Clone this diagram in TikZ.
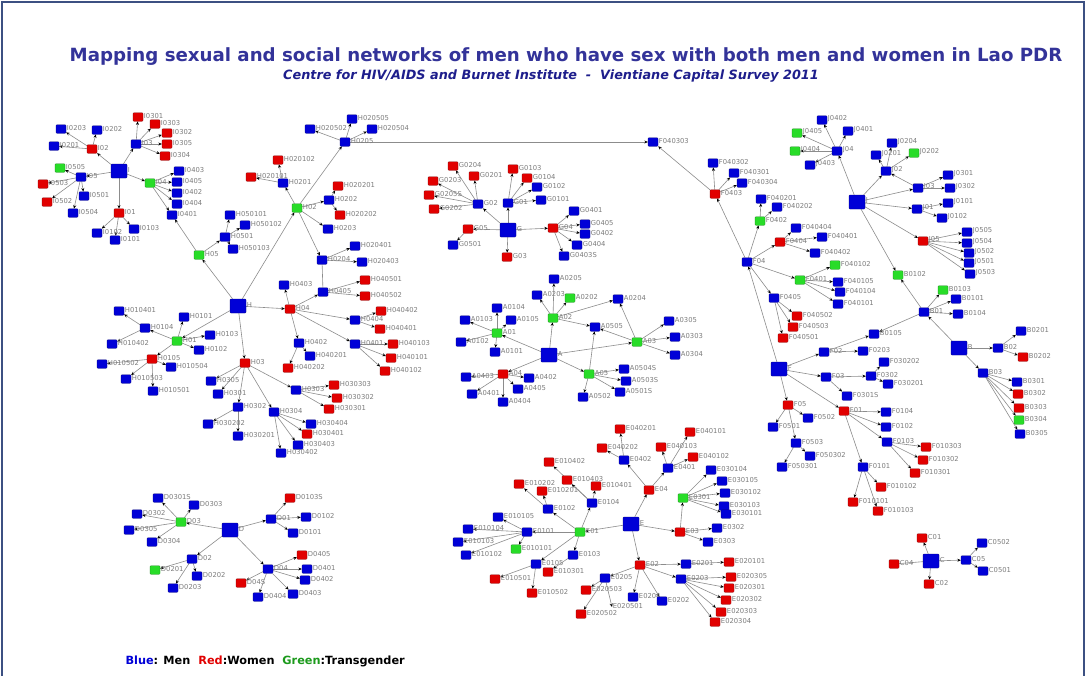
\documentclass[tikz,border=0pt]{standalone}
\usepackage{fontspec}
\setmainfont{DejaVu Sans}
\newfontfamily\lblfont{DejaVu Sans}
\usetikzlibrary{arrows.meta,backgrounds}

\definecolor{menblue}{RGB}{0,0,215}
\definecolor{womenred}{RGB}{225,0,0}
\definecolor{transgreen}{RGB}{40,220,40}
\definecolor{titleblue}{RGB}{51,51,153}
\definecolor{subblue}{RGB}{30,30,140}
\definecolor{edgegray}{RGB}{140,140,140}
\definecolor{lblgray}{RGB}{125,125,125}
\definecolor{framecol}{RGB}{60,80,130}

\tikzset{
  men/.style={rectangle, rounded corners=0.8pt, fill=menblue, draw=menblue!60!black,
    line width=0.3pt, minimum width=10pt, minimum height=8.5pt, inner sep=0pt},
  women/.style={men, fill=womenred, draw=womenred!60!black},
  trans/.style={men, fill=transgreen, draw=transgreen!60!black},
  hub/.style={minimum width=16pt, minimum height=14pt},
  lbl/.style={font=\lblfont\fontsize{6.8}{7}\selectfont, text=lblgray, inner sep=0.6pt, yshift=1pt},
  tie/.style={draw=edgegray, line width=0.6pt, -{Stealth[length=3.5pt,width=3pt,black]}},
  bond/.style={draw=edgegray, line width=0.6pt}
}

\begin{document}
\begin{tikzpicture}[x=1pt,y=-1pt]
  \useasboundingbox (0,0) rectangle (1086,675);
  % frame
  \draw[framecol, line width=1.2pt] (2,690) -- (2,2) -- (1084,2) -- (1084,690);

  % title
  \node (title) at (566,57) {\fontsize{18.2}{20}\selectfont\bfseries\color{titleblue}
    Mapping sexual and social networks of men who have sex with both men and women in Lao PDR};
  \node (subtitle) at (551,76) {\fontsize{12.8}{14}\selectfont\bfseries\itshape\color{subblue}
    Centre for HIV/AIDS and Burnet Institute~~-~~Vientiane Capital Survey 2011};

  % hubs
  \foreach \n/\x/\y in {I/119/171, H/238/306, G/508/230, A/549/355, J/857/202,
      F/779/369, B/959/348, D/230/530, E/631/524, C/931/561}
    \node[men, hub, label={[lbl]right:\n}] (\n) at (\x,\y) {};

  % men
  \foreach \n/\x/\y in {I0203/61/129, I0202/97/130, I0201/54/146, I03/136/144,
      I0403/179/171, I0405/177/182, I0402/177/193, I0404/177/204, I0401/172/215,
      I05/81/177, I0501/84/196, I0504/73/213, I0102/97/233, I0103/134/229, I0101/115/240,
      H0501/225/237, H050101/230/215, H050102/245/225, H050103/233/249, H0201/283/183,
      H0205/345/142, H020502/310/129, H020505/352/119, H020504/372/129, H0202/329/200,
      H0203/328/229, H0204/322/260, H020401/355/246, H020403/362/262,
      H0403/284/285, H0405/323/292, H0404/355/320, H0401/355/344, H0402/299/343,
      H040201/310/356, H0303/296/390, H030404/311/424, H030403/298/445, H030402/281/453,
      H0104/145/328, H010401/119/311, H010402/112/344, H0101/184/317, H0103/210/335,
      H0102/199/350, H010502/102/364, H010504/171/367, H010503/126/379, H010501/153/391,
      H0305/211/381, H0301/218/394, H0302/238/407, H030202/208/424, H030201/238/436,
      H0304/274/412,
      G02/478/204, G01/508/203, G0102/537/187, G0101/541/200, G0501/453/245,
      G0401/574/211, G0405/585/224, G0402/585/234, G0404/577/245, G0403S/564/256,
      A0205/554/279, A0203/537/295, A0204/618/299, A0505/595/327, A0305/669/321,
      A0303/675/337, A0304/675/355, A0504S/624/369, A0503S/626/381, A0501S/620/392,
      A0502/583/397, A0104/497/308, A0103/465/320, A0105/511/320, A0102/461/342,
      A0101/495/352, A0403/466/377, A0402/529/378, A0405/518/389, A0401/472/394,
      A0404/503/402,
      F040303/653/142, F040302/713/163, F040301/734/173, F040304/742/183, F04/747/262,
      F040201/761/199, F040202/777/207, F040404/796/228, F040401/822/237, F040402/815/253,
      F040105/838/282, F040104/840/292, F040101/838/304, F0405/774/298,
      J04/837/151, J0402/822/120, J0401/848/131, J0403/810/165, J02/886/171,
      J0204/892/143, J0201/876/155, J03/918/188, J0301/948/175, J0302/950/188,
      J01/917/209, J0101/948/203, J0102/942/218, J0505/967/232, J0504/967/243,
      J0502/969/253, J0501/969/263, J0503/970/274,
      B0101/956/299, B01/924/312, B0104/958/314, B0105/874/334, B02/998/348,
      B0201/1021/331, B03/983/373, B0301/1017/382, B0305/1020/434,
      F02/824/352, F0203/863/351, F03/826/377, F0302/871/376, F030202/884/362,
      F030201/888/384, F0301S/847/396, F0104/886/412, F0102/886/427, F0103/887/442,
      F0501/773/427, F0502/808/418, F0503/796/443, F050301/782/467, F050302/810/456,
      F0101/863/467,
      C05/966/560, C0502/982/543, C0501/983/571,
      D0301S/158/498, D0303/194/505, D0302/137/514, D0305/129/530, D0304/152/542,
      D02/192/559, D0202/197/576, D0203/173/588, D01/271/519, D04/268/569,
      D0404/258/597, D0102/306/517, D0101/293/533, D0401/307/569, D0402/305/580,
      D0403/293/594,
      E0102/548/509, E010105/498/517, E0101/527/532, E010104/468/529, E010103/458/542,
      E010102/466/555, E0105/536/564, E0104/592/503, E0103/573/555, E0402/624/460,
      E0401/668/468, E030104/711/470, E030105/722/481, E030102/725/493, E030103/724/506,
      E030101/726/514, E0302/717/528, E0303/708/542, E0201/686/564, E0203/681/579,
      E0204/633/597, E0202/662/601, E0205/605/578}
    \node[men, label={[lbl]right:\n}] (\n) at (\x,\y) {};

  % women
  \foreach \n/\x/\y in {I02/92/149, I0301/138/117, I0303/155/124, I0302/167/133,
      I0305/167/144, I0304/165/156, I0503/43/184, I0502/47/202, I01/119/213,
      H020101/251/177, H020102/278/160, H020201/338/186, H020202/340/215,
      H040501/365/280, H040502/365/296, H04/290/309, H040402/381/311, H040401/380/329,
      H040103/393/344, H040101/391/358, H040102/385/371, H040202/288/368,
      H030303/334/385, H030302/337/398, H030301/329/409, H030401/307/434,
      H0105/152/359, H03/245/363,
      G0204/453/166, G0201/474/176, G0203/433/181, G0205S/429/195, G0202/434/209,
      G0103/513/169, G0104/527/178, G05/468/229, G03/507/257, G04/553/228,
      F0403/715/194, F0404/780/242, F040502/797/316, F040503/793/327, F040501/783/338,
      F05/788/405, F01/844/411, F010303/926/447, F010302/923/460, F010301/915/473,
      F010101/853/502, F010102/881/487, F010103/878/511,
      J05/923/241, B0202/1023/357, B0302/1018/394, B0303/1019/408, A04/503/374,
      C01/922/538, C04/894/564, C02/929/584,
      D0103S/290/498, D0405/302/555, D04S/241/583,
      E010202/519/484, E010201/542/491, E010402/549/462, E010403/567/480,
      E010401/596/486, E010501/495/579, E010502/532/593, E010301/548/572,
      E04/649/490, E040202/602/448, E040201/620/429, E040103/661/447, E040101/690/432,
      E040102/693/457, E03/680/532, E02/640/565, E020101/729/562, E020305/731/577,
      E020301/729/588, E020302/726/600, E020303/721/612, E020304/715/622,
      E020503/586/590, E020502/581/614}
    \node[women, label={[lbl]right:\n}] (\n) at (\x,\y) {};

  % transgender
  \foreach \n/\x/\y in {I04/150/183, I0505/60/168, H05/199/255, H02/297/208,
      H01/177/341, F0402/760/221, F040102/835/265, F0401/800/280, J0405/797/133,
      J0404/795/151, J0202/914/153, B0102/898/275, B0103/943/290, B0304/1019/420,
      A02/553/318, A0202/570/298, A03/637/342, A05/589/374, A01/497/333,
      D03/181/522, D0201/155/570, E01/580/532, E0301/683/498, E010101/516/549}
    \node[trans, label={[lbl]right:\n}] (\n) at (\x,\y) {};

  \coordinate[label={[lbl]right:E020501}] (E020501) at (612,607);

  % connectors
  \begin{scope}[on background layer]
    \fill[white] (0,0) rectangle (1086,675);
    \foreach \p/\cs in {I/{I01,I02,I03,I04,I05}, I01/{I0101,I0102,I0103},
        I02/{I0201,I0202,I0203}, I03/{I0301,I0302,I0303,I0304,I0305},
        I04/{I0401,I0402,I0403,I0404,I0405}, I05/{I0501,I0502,I0503,I0504,I0505},
        H/{H01,H02,H03,H04,H05}, H01/{H0101,H0102,H0103,H0104,H0105},
        H0104/{H010401,H010402}, H0105/{H010501,H010502,H010503,H010504},
        H02/{H0201,H0202,H0203,H0204,H0205}, H0201/{H020101,H020102},
        H0202/{H020201,H020202}, H0204/{H020401,H020403},
        H0205/{H020502,H020504,H020505,F040303},
        H03/{H0301,H0302,H0303,H0304,H0305}, H0302/{H030201,H030202},
        H0303/{H030301,H030302,H030303}, H0304/{H030401,H030402,H030403,H030404},
        H04/{H0401,H0402,H0403,H0404,H0405}, H0401/{H040101,H040102,H040103},
        H0402/{H040201,H040202}, H0404/{H040401,H040402}, H0405/{H040501,H040502},
        H05/{H0501,I0401}, H0501/{H050101,H050102,H050103},
        G/{G01,G02,G03,G04,G05}, G01/{G0101,G0102,G0103,G0104},
        G02/{G0201,G0202,G0203,G0204,G0205S}, G04/{G0401,G0402,G0403S,G0404,G0405},
        G05/{G0501},
        A/{A01,A02,A03,A04,A05}, A01/{A0101,A0102,A0103,A0104,A0105},
        A02/{A0202,A0203,A0204,A0205,A0505}, A03/{A0303,A0304,A0305,A0505,A0204},
        A04/{A0401,A0402,A0403,A0404,A0405}, A05/{A0501S,A0502,A0503S,A0504S,A0505},
        F/{F01,F02,F03,F04,F05}, F04/{F0401,F0402,F0403,F0404,F0405},
        F0401/{F040101,F040102,F040104,F040105}, F0402/{F040201,F040202},
        F0403/{F040301,F040302,F040303,F040304}, F0404/{F040401,F040402,F040404},
        F0405/{F040501,F040502,F040503}, F01/{F0101,F0102,F0103,F0104},
        F0101/{F010101,F010102,F010103}, F0103/{F010301,F010302,F010303},
        F02/{F0203,B0105}, F03/{F0301S,F0302}, F0302/{F030201,F030202},
        F05/{F0501,F0502,F0503}, F0503/{F050301,F050302},
        B/{B01,B02,B03}, B01/{B0101,B0102,B0103,B0104,B0105}, B02/{B0201,B0202},
        B03/{B0301,B0302,B0303,B0304,B0305},
        J/{J01,J02,J03,J04,J05,B0102}, J01/{J0101,J0102}, J02/{J0201,J0202,J0204},
        J03/{J02,J0301,J0302}, J04/{J0401,J0402,J0403,J0404,J0405},
        J05/{J0501,J0502,J0503,J0504,J0505},
        C/{C01,C02,C05}, C05/{C0501,C0502},
        D/{D01,D02,D03,D04}, D01/{D0101,D0102,D0103S}, D02/{D0201,D0202,D0203},
        D03/{D0301S,D0302,D0303,D0304,D0305}, D04/{D0401,D0402,D0403,D0404,D0405,D04S},
        E/{E01,E02,E03,E04}, E01/{E0101,E0102,E0103,E0104,E0105},
        E0101/{E010101,E010102,E010103,E010104,E010105}, E0102/{E010201,E010202},
        E0103/{E010301}, E0104/{E010401,E010402,E010403}, E0105/{E010501,E010502},
        E02/{E0201,E0202,E0203,E0204,E0205}, E0201/{E020101},
        E0203/{E020301,E020302,E020303,E020304,E020305},
        E0205/{E020501,E020502,E020503}, E03/{E0301,E0302,E0303},
        E0301/{E030101,E030102,E030103,E030104,E030105}, E04/{E0401,E0402},
        E0401/{E040101,E040102,E040103}, E0402/{E040201,E040202}}
      \foreach \c in \cs {\draw[tie] (\p) -- (\c);}
    \draw[bond] (H0204) -- (H0405);
    \draw[bond] (C04) -- (C);
  \end{scope}

  % legend
  \node[anchor=west] (legend) at (122,661) {\fontsize{11.3}{13}\selectfont\bfseries
    \textcolor{menblue}{Blue}: Men~~\textcolor{womenred}{Red}:Women~~\textcolor{transgreen!70!black}{Green}:Transgender};
\end{tikzpicture}
\end{document}
